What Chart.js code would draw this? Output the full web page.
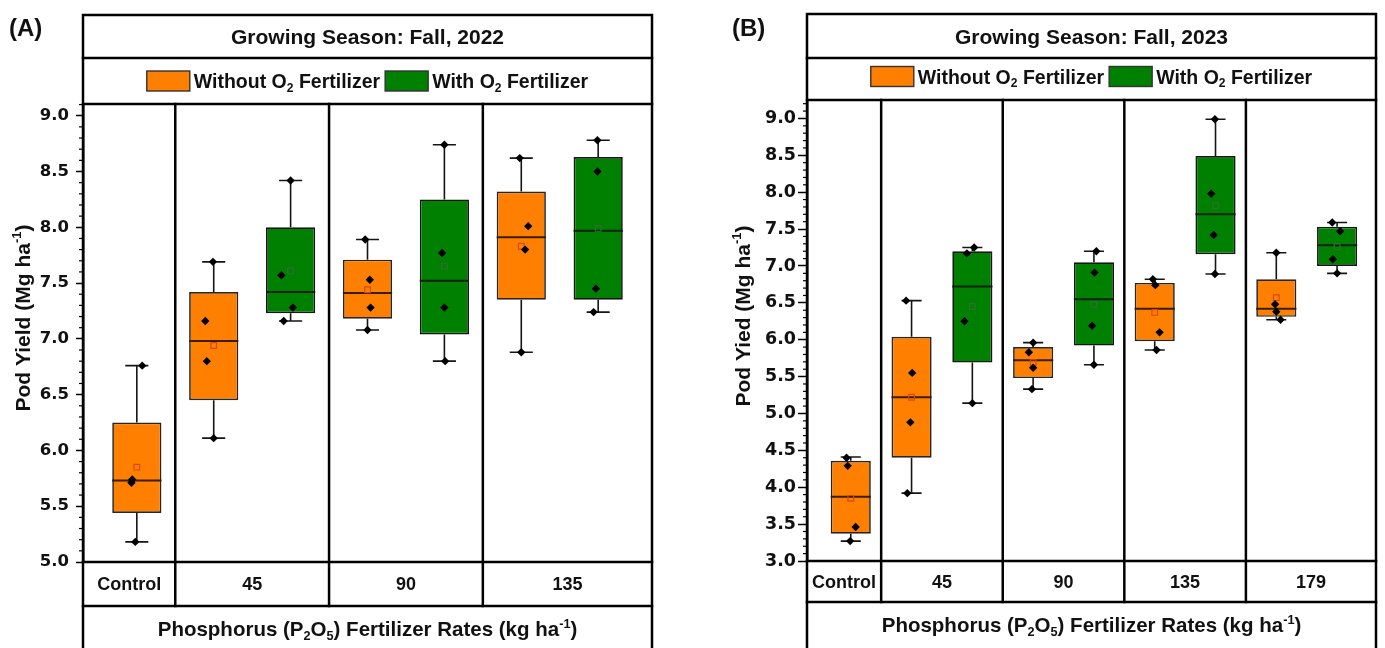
<!DOCTYPE html>
<html><head><meta charset="utf-8">
<script src="https://cdn.jsdelivr.net/npm/chart.js@4.4.1/dist/chart.umd.min.js"></script>
<style>
html,body{margin:0;padding:0;background:#fff;}
#wrap{position:relative;width:1385px;height:648px;overflow:hidden;background:#fff;}
canvas{position:absolute;top:0;}
#cA{left:0;} #cB{left:690px;}
</style></head><body>
<div id="wrap"><canvas id="cA" width="690" height="648"></canvas><canvas id="cB" width="695" height="648"></canvas></div>
<script>
// ================= DATA =================
const seriesWithout = [{t:'Without O'},{t:'2',sub:true},{t:' Fertilizer'}];
const seriesWith    = [{t:'With O'},{t:'2',sub:true},{t:' Fertilizer'}];
const xAxisTitle = [{t:'Phosphorus (P'},{t:'2',sub:true},{t:'O'},{t:'5',sub:true},{t:') Fertilizer Rates (kg ha'},{t:'-1',sup:true},{t:')'}];

// ---- Panel A : Fall 2022 ----
const titleA = 'Growing Season: Fall, 2022';
const yTitleA = [{t:'Pod Yield (Mg ha'},{t:'-1',sup:true},{t:')'}];
const catsA = ['Control','45','90','135'];
const yTicksA = ['5.0','5.5','6.0','6.5','7.0','7.5','8.0','8.5','9.0'];
const dividersA = [1.5, 3.5, 5.5];
// Without O2 (Control, 45, 90, 135)
const posA_wo  = [1, 2, 4, 6];
const minA_wo  = [5.18, 6.11, 7.08, 6.88];
const q1A_wo   = [5.44, 6.45, 7.18, 7.35];
const medA_wo  = [5.73, 6.98, 7.41, 7.91];
const q3A_wo   = [6.25, 7.42, 7.71, 8.32];
const maxA_wo  = [6.76, 7.69, 7.89, 8.62];
const meanA_wo = [5.85, 6.94, 7.44, 7.83];
const ptsA_wo  = [[6.76,5.74,5.71,5.18],[7.69,7.16,6.80,6.11],[7.89,7.53,7.28,7.08],[8.62,8.01,7.80,6.88]];
const jitA_wo  = [[0.07,-0.06,-0.07,-0.02],[-0.01,-0.11,-0.09,0],[-0.03,0.03,0.04,0],[-0.02,0.09,0.05,0]];
// With O2 (45, 90, 135)
const posA_w  = [3, 5, 7];
const minA_w  = [7.16, 6.80, 7.24];
const q1A_w   = [7.23, 7.04, 7.35];
const medA_w  = [7.42, 7.52, 7.97];
const q3A_w   = [8.00, 8.25, 8.63];
const maxA_w  = [8.42, 8.74, 8.78];
const meanA_w = [7.61, 7.65, 7.99];
const ptsA_w  = [[8.42,7.57,7.28,7.16],[8.74,7.77,7.28,6.80],[8.78,8.50,7.45,7.24]];
const jitA_w  = [[0,-0.12,0.03,-0.09],[0,-0.03,0,0.01],[-0.01,-0.01,-0.03,-0.06]];

// ---- Panel B : Fall 2023 ----
const titleB = 'Growing Season: Fall, 2023';
const yTitleB = [{t:'Pod Yied (Mg ha'},{t:'-1',sup:true},{t:')'}];
const catsB = ['Control','45','90','135','179'];
const yTicksB = ['3.0','3.5','4.0','4.5','5.0','5.5','6.0','6.5','7.0','7.5','8.0','8.5','9.0'];
const dividersB = [1.5, 3.5, 5.5, 7.5];
// Without O2 (Control, 45, 90, 135, 179)
const posB_wo  = [1, 2, 4, 6, 8];
const minB_wo  = [3.27, 3.92, 5.33, 5.86, 6.27];
const q1B_wo   = [3.37, 4.40, 5.48, 5.98, 6.31];
const medB_wo  = [3.87, 5.22, 5.72, 6.42, 6.42];
const q3B_wo   = [4.36, 6.04, 5.90, 6.77, 6.82];
const maxB_wo  = [4.41, 6.53, 5.96, 6.82, 7.18];
const meanB_wo = [3.85, 5.22, 5.69, 6.37, 6.57];
const ptsB_wo  = [[4.40,4.29,3.46,3.27],[6.53,5.55,4.88,3.92],[5.96,5.83,5.62,5.33],[6.82,6.74,6.10,5.86],[7.18,6.48,6.38,6.27]];
const jitB_wo  = [[-0.07,-0.05,0.08,-0.01],[-0.09,0.01,-0.02,-0.07],[0,-0.07,0,-0.02],[-0.03,0.01,0.08,0.03],[0,-0.02,0,0.07]];
// With O2 (45, 90, 135, 179)
const posB_w  = [3, 5, 7, 9];
const minB_w  = [5.14, 5.66, 6.89, 6.90];
const q1B_w   = [5.69, 5.92, 7.16, 7.00];
const medB_w  = [6.72, 6.55, 7.70, 7.28];
const q3B_w   = [7.20, 7.05, 8.49, 7.53];
const maxB_w  = [7.25, 7.20, 8.99, 7.59];
const meanB_w = [6.45, 6.48, 7.82, 7.26];
const ptsB_w  = [[7.25,7.17,6.25,5.14],[7.20,6.91,6.19,5.66],[8.99,7.98,7.42,6.89],[7.59,7.47,7.09,6.90]];
const jitB_w  = [[0.03,-0.09,-0.13,0],[0.04,0.01,-0.03,0],[-0.01,-0.07,-0.03,-0.01],[-0.08,0.05,-0.07,0]];

// ================= STYLE / HELPERS =================
const FONT = "'Liberation Sans', Arial, Helvetica, sans-serif";
const ORANGE = '#FF8000', GREEN = '#008000';

function segWidth(ctx, segs, size, weight){
  let w = 0;
  segs.forEach(s => { const sz = (s.sub||s.sup) ? size*0.62 : size; ctx.font = `${weight} ${sz}px ${FONT}`; w += ctx.measureText(s.t).width; });
  return w;
}
function drawRich(ctx, segs, x, cy, size, weight, align){
  const total = segWidth(ctx, segs, size, weight);
  let cx = align === 'left' ? x : x - total/2;
  const base = cy + size*0.36;
  ctx.textAlign = 'left'; ctx.textBaseline = 'alphabetic'; ctx.fillStyle = '#111';
  segs.forEach(s => {
    const sz = (s.sub||s.sup) ? size*0.62 : size;
    ctx.font = `${weight} ${sz}px ${FONT}`;
    let y = base;
    if (s.sub) y += size*0.2;
    if (s.sup) y -= size*0.42;
    ctx.fillText(s.t, cx, y);
    cx += ctx.measureText(s.t).width;
  });
  return total;
}

const framePlugin = {
  id: 'panelFrame',
  afterDraw(chart, args, o) {
    const ctx = chart.ctx, ca = chart.chartArea, xs = chart.scales.x, ys = chart.scales.y;
    const H = chart.height, L = ca.left, R = ca.right;
    ctx.save();
    // minor ticks
    ctx.strokeStyle = '#000'; ctx.lineWidth = 1.2;
    const n0 = Math.ceil(ys.min / o.minorStep - 1e-6), n1 = Math.floor(ys.max / o.minorStep + 1e-6);
    for (let k = n0; k <= n1; k++) {
      const v = k * o.minorStep;
      if (Math.abs(v*2 - Math.round(v*2)) < 1e-6) continue;
      const py = ys.getPixelForValue(v);
      ctx.beginPath(); ctx.moveTo(L - 4, py); ctx.lineTo(L, py); ctx.stroke();
    }
    // frame & rows
    ctx.lineWidth = o.lw; ctx.strokeStyle = '#000'; ctx.lineCap = 'square'; ctx.lineJoin = 'miter';
    ctx.beginPath(); ctx.moveTo(L, H + 3); ctx.lineTo(L, o.frameTop); ctx.lineTo(R, o.frameTop); ctx.lineTo(R, H + 3); ctx.stroke();
    [o.row1, ca.top, ca.bottom, o.catBottom].forEach(y => { ctx.beginPath(); ctx.moveTo(L, y); ctx.lineTo(R, y); ctx.stroke(); });
    o.dividers.forEach(d => { const px = xs.getPixelForValue(d); ctx.beginPath(); ctx.moveTo(px, ca.top); ctx.lineTo(px, o.catBottom); ctx.stroke(); });
    // title
    drawRich(ctx, [{t:o.title}], (L+R)/2, o.titleY, o.titleSize, 'bold');
    // legend
    const sw = 43, sh = 20, g1 = 4, g2 = 5;
    const w1 = segWidth(ctx, seriesWithout, o.legSize, 'bold'), w2 = segWidth(ctx, seriesWith, o.legSize, 'bold');
    const tot = sw + g1 + w1 + g2 + sw + g1 + w2;
    let lx = (L+R)/2 - tot/2;
    [[ORANGE, seriesWithout, w1], [GREEN, seriesWith, w2]].forEach(([c, segs, w]) => {
      ctx.fillStyle = c; ctx.fillRect(lx, o.legendY - sh/2, sw, sh);
      ctx.lineWidth = 1.4; ctx.strokeStyle = '#333'; ctx.strokeRect(lx, o.legendY - sh/2, sw, sh);
      lx += sw + g1;
      drawRich(ctx, segs, lx, o.legendY, o.legSize, 'bold', 'left');
      lx += w + g2;
    });
    // category labels
    const bounds = [xs.min, ...o.dividers, xs.max];
    o.cats.forEach((c, i) => {
      const cx = (xs.getPixelForValue(bounds[i]) + xs.getPixelForValue(bounds[i+1])) / 2;
      drawRich(ctx, [{t:c}], cx, o.catY, o.catSize, 'bold');
    });
    // x axis title
    drawRich(ctx, xAxisTitle, (L+R)/2, o.axisTitleY, o.axisSize, 'bold');
    // panel letter
    drawRich(ctx, [{t:o.letter}], o.letterX, o.letterY, 24, 'bold', 'left');
    // y title
    ctx.save(); ctx.translate(o.yTitleX, o.yTitleY); ctx.rotate(-Math.PI/2);
    drawRich(ctx, o.yTitle, 0, 0, o.yTitleSize, 'bold');
    ctx.restore();
    ctx.restore();
  }
};

function boxData(pos, q1, q3){ return pos.map((p,i)=>({x:p, y:[q1[i], q3[i]]})); }
function whiskerData(pos, mn, q1, q3, mx, capW){
  const d = [];
  pos.forEach((p,i) => {
    d.push({x:p,y:mx[i]},{x:p,y:q3[i]},{x:p,y:null});
    d.push({x:p,y:q1[i]},{x:p,y:mn[i]},{x:p,y:null});
    d.push({x:p-capW/2,y:mx[i]},{x:p+capW/2,y:mx[i]},{x:p,y:null});
    d.push({x:p-capW/2,y:mn[i]},{x:p+capW/2,y:mn[i]},{x:p,y:null});
  });
  return d;
}
function medianData(pos, med, boxW){
  const d = [];
  pos.forEach((p,i) => { d.push({x:p-boxW/2,y:med[i]},{x:p+boxW/2,y:med[i]},{x:p,y:null}); });
  return d;
}
function meanData(pos, mean){ return pos.map((p,i)=>({x:p, y:mean[i]})); }
function pointData(pos, pts, jit){
  const d = [];
  pos.forEach((p,i) => pts[i].forEach((v,j) => d.push({x:p + jit[i][j], y:v})));
  return d;
}

function makePanel(id, S, L){
  const lineBase = {type:'line', pointRadius:0, spanGaps:false, fill:false, tension:0};
  const ds = [
    {type:'bar', label:'Without', data:boxData(S.posWo, S.q1Wo, S.q3Wo), backgroundColor:ORANGE, borderColor:'#262626', borderWidth:1.7, borderSkipped:false, grouped:false, barPercentage:L.boxW, categoryPercentage:1, order:4},
    {type:'bar', label:'With', data:boxData(S.posW, S.q1W, S.q3W), backgroundColor:GREEN, borderColor:'#161616', borderWidth:1.7, borderSkipped:false, grouped:false, barPercentage:L.boxW, categoryPercentage:1, order:4},
    Object.assign({label:'whiskers', data:whiskerData(S.posWo, S.minWo, S.q1Wo, S.q3Wo, S.maxWo, L.capW).concat(whiskerData(S.posW, S.minW, S.q1W, S.q3W, S.maxW, L.capW)),
      borderColor:'#151515', borderWidth:1.6, order:3}, lineBase),
    Object.assign({label:'medWo', data:medianData(S.posWo, S.medWo, L.boxW), borderColor:'#3a1c00', borderWidth:2, order:3}, lineBase),
    Object.assign({label:'medW', data:medianData(S.posW, S.medW, L.boxW), borderColor:'#0d1f0d', borderWidth:2, order:3}, lineBase),
    {type:'scatter', label:'meanWo', data:meanData(S.posWo, S.meanWo), pointStyle:'rect', pointRadius:4, backgroundColor:'rgba(0,0,0,0)', borderColor:'#d9480f', pointBorderWidth:1.2, order:2},
    {type:'scatter', label:'meanW', data:meanData(S.posW, S.meanW), pointStyle:'rect', pointRadius:4, backgroundColor:'rgba(0,0,0,0)', borderColor:'#2f6f2f', pointBorderWidth:1.2, order:2},
    {type:'scatter', label:'pts', data:pointData(S.posWo, S.ptsWo, S.jitWo).concat(pointData(S.posW, S.ptsW, S.jitW)), pointStyle:'rectRot', pointRadius:4.2, backgroundColor:'#000', borderColor:'#000', pointBorderWidth:0, order:1}
  ];
  return new Chart(document.getElementById(id), {
    type:'bar',
    data:{datasets:ds},
    options:{
      responsive:false, animation:false, devicePixelRatio:1,
      layout:{padding:{left:0, right:L.padRight, top:L.padTop, bottom:L.padBottom}},
      plugins:{legend:{display:false}, tooltip:{enabled:false}, title:{display:false},
        panelFrame:Object.assign({cats:S.cats, dividers:S.dividers, title:S.title, yTitle:S.yTitle, letter:S.letter}, L)},
      scales:{
        x:{type:'linear', display:false, offset:false, min:L.xmin, max:L.xmax,
           afterBuildTicks:s => { s.ticks = S.dividers.map(v=>({value:v})); }},
        y:{type:'linear', position:'left', min:L.ymin, max:L.ymax,
           afterBuildTicks:s => { s.ticks = S.yTicks.map(t=>({value:parseFloat(t)})); },
           afterFit:s => { s.width = L.frameLeft; },
           ticks:{callback:(v,i)=>S.yTicks[i], font:{family:"'DejaVu Sans', sans-serif", weight:'bold', size:L.tickSize}, color:'#111', padding:L.tickPad, autoSkip:false},
           grid:{drawOnChartArea:false, drawTicks:true, tickLength:L.tickLen, tickWidth:1.5, tickColor:'#000'},
           border:{display:true, color:'#000', width:2.5}}
      }
    },
    plugins:[framePlugin]
  });
}

makePanel('cA',
  {posWo:posA_wo, minWo:minA_wo, q1Wo:q1A_wo, medWo:medA_wo, q3Wo:q3A_wo, maxWo:maxA_wo, meanWo:meanA_wo, ptsWo:ptsA_wo, jitWo:jitA_wo,
   posW:posA_w, minW:minA_w, q1W:q1A_w, medW:medA_w, q3W:q3A_w, maxW:maxA_w, meanW:meanA_w, ptsW:ptsA_w, jitW:jitA_w,
   cats:catsA, yTicks:yTicksA, dividers:dividersA, title:titleA, yTitle:yTitleA, letter:'(A)'},
  {xmin:0.3, xmax:7.7, ymin:5, ymax:9.105, frameLeft:83, padRight:38, padTop:104, padBottom:86,
   frameTop:15, row1:58, catBottom:606, titleY:36.5, legendY:81, catY:584, axisTitleY:629,
   letterX:9, letterY:27, yTitleX:22, yTitleY:318, boxW:0.64, capW:0.3,
   tickSize:16.5, tickPad:7, tickLen:7, minorStep:0.1, lw:2.5,
   titleSize:21, legSize:19.5, catSize:18, axisSize:20.5, yTitleSize:21});

makePanel('cB',
  {posWo:posB_wo, minWo:minB_wo, q1Wo:q1B_wo, medWo:medB_wo, q3Wo:q3B_wo, maxWo:maxB_wo, meanWo:meanB_wo, ptsWo:ptsB_wo, jitWo:jitB_wo,
   posW:posB_w, minW:minB_w, q1W:q1B_w, medW:medB_w, q3W:q3B_w, maxW:maxB_w, meanW:meanB_w, ptsW:ptsB_w, jitW:jitB_w,
   cats:catsB, yTicks:yTicksB, dividers:dividersB, title:titleB, yTitle:yTitleB, letter:'(B)'},
  {xmin:0.28, xmax:9.64, ymin:3, ymax:9.25, frameLeft:117, padRight:9, padTop:100, padBottom:87,
   frameTop:14, row1:58, catBottom:602, titleY:36, legendY:76.5, catY:581.5, axisTitleY:625,
   letterX:42, letterY:27, yTitleX:52, yTitleY:316, boxW:0.66, capW:0.33,
   tickSize:17.5, tickPad:2, tickLen:9, minorStep:0.1, lw:2.5,
   titleSize:21, legSize:19.5, catSize:18, axisSize:20.5, yTitleSize:21});
</script>
</body></html>
